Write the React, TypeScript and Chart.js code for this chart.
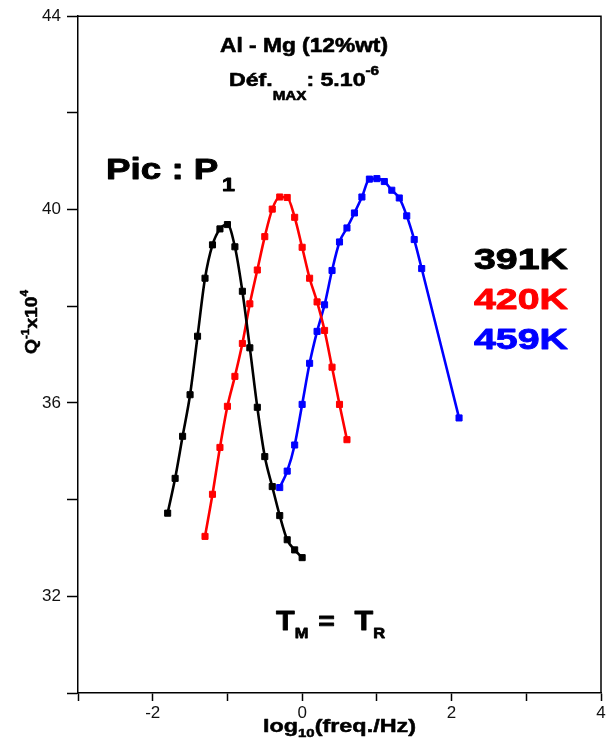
import React, { useEffect, useRef } from "react";
import { Chart, registerables } from "chart.js";

Chart.register(...registerables);

// ---- data ----
const x391 = [-1.8, -1.7, -1.6, -1.5, -1.4, -1.3, -1.2, -1.1, -1.0, -0.9, -0.8, -0.7, -0.6, -0.5, -0.4, -0.3, -0.2, -0.1, 0.0];
const y391 = [33.72, 34.44, 35.31, 36.17, 37.38, 38.58, 39.27, 39.60, 39.69, 39.23, 38.31, 37.14, 35.91, 34.89, 34.27, 33.67, 33.17, 32.96, 32.80];

const x420 = [-1.3, -1.2, -1.1, -1.0, -0.9, -0.8, -0.7, -0.6, -0.5, -0.4, -0.3, -0.2, -0.1, 0.0, 0.1, 0.2, 0.3, 0.4, 0.5, 0.6];
const y420 = [33.24, 34.11, 35.08, 35.93, 36.55, 37.23, 38.05, 38.75, 39.44, 40.01, 40.26, 40.25, 39.84, 39.22, 38.58, 38.09, 37.50, 36.74, 35.97, 35.24];

const x459 = [-0.3, -0.2, -0.1, 0.0, 0.1, 0.2, 0.3, 0.4, 0.5, 0.6, 0.7, 0.8, 0.9, 1.0, 1.1, 1.2, 1.3, 1.4, 1.5, 1.6, 2.1];
const y459 = [34.25, 34.59, 35.13, 35.97, 36.82, 37.48, 38.03, 38.74, 39.33, 39.62, 39.93, 40.26, 40.63, 40.64, 40.58, 40.40, 40.24, 39.87, 39.38, 38.78, 35.69];

const seriesLabels = ["391K", "420K", "459K"];
const seriesColors = ["#000000", "#ff0000", "#0000ff"];

const xMin = -3, xMax = 4, xStep = 1;
const yMin = 30, yMax = 44, yStep = 2;
const xLabelEvery = 2;
const yLabelEvery = 4;

const FONT = '"Liberation Sans", Arial, sans-serif';

type Part = { t: string; size: number; dy?: number; gap?: number };

function drawRich(ctx: CanvasRenderingContext2D, parts: Part[], x: number, y: number, targetW: number, color: string, stroke = 0.7) {
  let w = 0;
  const widths: number[] = [];
  for (const p of parts) {
    ctx.font = `bold ${p.size}px ${FONT}`;
    const mw = ctx.measureText(p.t).width + (p.gap || 0);
    widths.push(mw);
    w += mw;
  }
  const sx = targetW > 0 ? targetW / w : 1;
  ctx.save();
  ctx.translate(x, y);
  ctx.scale(sx, 1);
  ctx.fillStyle = color;
  ctx.strokeStyle = color;
  ctx.lineWidth = stroke;
  ctx.lineJoin = "round";
  ctx.textBaseline = "alphabetic";
  ctx.textAlign = "left";
  let cx = 0;
  parts.forEach((p, i) => {
    ctx.font = `bold ${p.size}px ${FONT}`;
    ctx.fillText(p.t, cx, p.dy || 0);
    if (stroke > 0) ctx.strokeText(p.t, cx, p.dy || 0);
    cx += widths[i];
  });
  ctx.restore();
}

const annotPlugin = {
  id: "annot",
  afterDraw(chart: any) {
    const ctx: CanvasRenderingContext2D = chart.ctx;
    const a = chart.chartArea;
    ctx.save();
    // frame top & right
    ctx.strokeStyle = "#000";
    ctx.lineWidth = 1.5;
    ctx.beginPath();
    ctx.moveTo(a.left, a.top);
    ctx.lineTo(a.right, a.top);
    ctx.lineTo(a.right, a.bottom);
    ctx.stroke();

    // titles
    drawRich(ctx, [{ t: "Al - Mg (12%wt)", size: 20 }], 220, 52, 168, "#000", 0.6);
    drawRich(ctx, [
      { t: "Déf.", size: 19 },
      { t: "MAX", size: 12.5, dy: 14 },
      { t: ": 5.10", size: 19 },
      { t: "-6", size: 12.5, dy: -11 },
    ], 229, 86, 150, "#000", 0.6);

    drawRich(ctx, [
      { t: "Pic : P", size: 30, gap: 3 },
      { t: "1", size: 19, dy: 12 },
    ], 106, 179, 129, "#000", 0.9);

    const bases = [269, 309, 349];
    seriesLabels.forEach((s, i) => {
      drawRich(ctx, [{ t: s, size: 30 }], 474, bases[i], 94, seriesColors[i], 0.9);
    });

    drawRich(ctx, [
      { t: "T", size: 28 },
      { t: "M", size: 15, dy: 8, gap: 9 },
      { t: "=", size: 26, gap: 18 },
      { t: "T", size: 28 },
      { t: "R", size: 15, dy: 8 },
    ], 276, 630, 109, "#000", 0.8);

    // x axis title
    drawRich(ctx, [
      { t: "log", size: 18 },
      { t: "10", size: 11.5, dy: 5 },
      { t: "(freq./Hz)", size: 18 },
    ], 263, 732, 153, "#000", 0.5);

    // y axis title (rotated)
    ctx.save();
    ctx.translate(37, 354);
    ctx.rotate(-Math.PI / 2);
    drawRich(ctx, [
      { t: "Q", size: 17 },
      { t: "-1", size: 10.5, dy: -8 },
      { t: "x10", size: 17 },
      { t: "4", size: 10.5, dy: -9 },
    ], 0, 0, 64, "#000", 0.5);
    ctx.restore();
    ctx.restore();
  },
};

function makeData(xs: number[], ys: number[]) {
  return xs.map((x, i) => ({ x, y: ys[i] }));
}

export default function App() {
  const ref = useRef<HTMLCanvasElement | null>(null);
  useEffect(() => {
    if (!ref.current) return;
    const sets = [makeData(x391, y391), makeData(x420, y420), makeData(x459, y459)];
    const chart = new Chart(ref.current, {
      type: "line",
      data: {
        datasets: sets.map((d, i) => ({
          label: seriesLabels[i],
          data: d,
          borderColor: seriesColors[i],
          backgroundColor: seriesColors[i],
          borderWidth: 2.6,
          pointStyle: "rect",
          pointRadius: 4.3,
          pointBorderWidth: 1,
          pointBackgroundColor: seriesColors[i],
          pointBorderColor: seriesColors[i],
          cubicInterpolationMode: "monotone",
          fill: false,
        })),
      },
      options: {
        animation: false,
        responsive: true,
        maintainAspectRatio: false,
        layout: { padding: { top: 15, right: 11, left: 0, bottom: 0 } },
        plugins: { legend: { display: false }, tooltip: { enabled: false } },
        scales: {
          x: {
            type: "linear",
            min: xMin,
            max: xMax,
            afterFit: (s: any) => { s.height = 54; },
            ticks: {
              stepSize: xStep,
              autoSkip: false,
              maxRotation: 0,
              padding: 2,
              color: "#111",
              font: { family: FONT, size: 17 },
              callback: (v: any) => (Math.round(v) % xLabelEvery === 0 ? String(v) : ""),
            },
            grid: { drawOnChartArea: false, drawTicks: true, tickLength: 8, tickColor: "#000", tickWidth: 1.5 },
            border: { color: "#000", width: 1.5 },
          },
          y: {
            type: "linear",
            min: yMin,
            max: yMax,
            afterFit: (s: any) => { s.width = 78; },
            ticks: {
              stepSize: yStep,
              autoSkip: false,
              padding: 6,
              color: "#111",
              font: { family: FONT, size: 17 },
              callback: (v: any) => (Math.round(v) % yLabelEvery === 0 ? String(v) : ""),
            },
            grid: { drawOnChartArea: false, drawTicks: true, tickLength: 11, tickColor: "#000", tickWidth: 1.5 },
            border: { color: "#000", width: 1.5 },
          },
        },
      },
      plugins: [annotPlugin],
    } as any);
    return () => chart.destroy();
  }, []);
  return (
    <div style={{ position: "absolute", left: 0, top: 0, width: 612, height: 747, background: "#fff" }}>
      <canvas ref={ref} />
    </div>
  );
}
